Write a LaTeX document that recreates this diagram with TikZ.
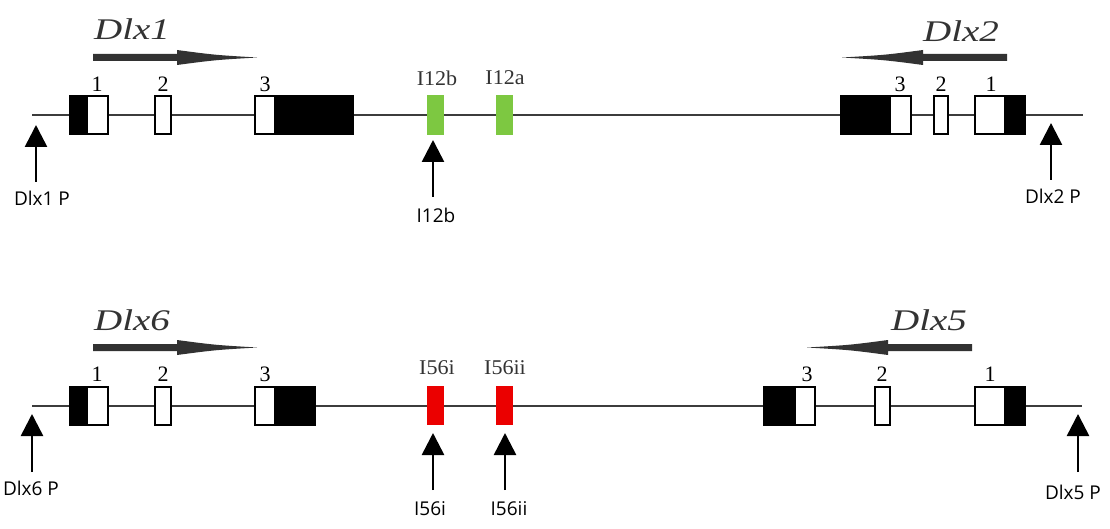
\documentclass[tikz,border=0pt]{standalone}
\usepackage{fontspec}
\setmainfont{Liberation Serif}
\newfontfamily\labfont{Open Sans}
\usetikzlibrary{arrows.meta}
\definecolor{exgreen}{RGB}{125,200,65}
\definecolor{exred}{RGB}{235,0,0}
\definecolor{gline}{RGB}{60,60,60}
\definecolor{garrowc}{RGB}{50,50,50}
\tikzset{
  genename/.style={font=\fontsize{30}{30}\selectfont\itshape, xscale=1.3, text=black!80, inner sep=0pt},
  exnum/.style={font=\fontsize{22}{22}\selectfont, inner sep=0pt},
  elname/.style={font=\fontsize{21}{21}\selectfont, xscale=1.05, text=black!80, inner sep=0pt},
  plabel/.style={font=\labfont\fontsize{19}{19}\selectfont, inner sep=0pt},
  pointer/.style={line width=2.6pt, -{Triangle[width=22pt,length=22pt]}},
  dna/.style={line width=1.3pt, draw=gline},
  exw/.style={draw=black, line width=1.2pt, fill=white},
  exb/.style={draw=black, line width=1.2pt, fill=black},
  garrow/.style={fill=garrowc},
}
\begin{document}
\begin{tikzpicture}[x=1pt,y=-1pt]
\useasboundingbox (0,0) rectangle (1110,529);

% ---------------- top row ----------------
\draw[dna] (32,115) -- (1083,115);
% Dlx1 exons
\draw[exb] (70,96) rectangle (87,134);
\draw[exw] (87,96) rectangle (108,134);
\draw[exw] (155,96) rectangle (171,134);
\draw[exw] (255,96) rectangle (275,134);
\draw[exb] (275,96) rectangle (353,134);
\node[exnum] (n11) at (97,84) {1};
\node[exnum] (n12) at (163,84) {2};
\node[exnum] (n13) at (265,84) {3};
% Dlx2 exons
\draw[exb] (841,96) rectangle (890,134);
\draw[exw] (890,96) rectangle (911,134);
\draw[exw] (934,96) rectangle (948,134);
\draw[exw] (975,96) rectangle (1005,134);
\draw[exb] (1005,96) rectangle (1025,134);
\node[exnum] (n23) at (900,84) {3};
\node[exnum] (n22) at (941,84) {2};
\node[exnum] (n21) at (991,84) {1};
% enhancers
\fill[exgreen] (427,95) rectangle (444,135);
\fill[exgreen] (496,95) rectangle (513,135);
\node[elname] (e12b) at (437,78) {I12b};
\node[elname] (e12a) at (505,78) {I12a};
% gene names and arrows
\node[genename] (g1) at (132,29) {Dlx1};
\node[genename] (g2) at (961,31) {Dlx2};
\fill[garrow] (93,54) -- (177,54) -- (177,50) .. controls (215,55) .. (257,57.5)
  .. controls (215,60) .. (177,65) -- (177,61) -- (93,61) -- cycle;
\fill[garrow] (1007,54) -- (923,54) -- (923,50) .. controls (885,55) .. (842,57.5)
  .. controls (885,60) .. (923,65) -- (923,61) -- (1007,61) -- cycle;
% pointers
\node[plabel] (p1) at (42,198) {Dlx1 P};
\coordinate (p1t) at (36,125);
\coordinate (p1s) at (36,182);
\draw[pointer] (p1s) -- (p1t);
\node[plabel] (p2) at (1053,196) {Dlx2 P};
\coordinate (p2t) at (1051,123);
\coordinate (p2s) at (1051,180);
\draw[pointer] (p2s) -- (p2t);
\node[plabel] (p12) at (436,215) {I12b};
\coordinate (p12t) at (433,140);
\coordinate (p12s) at (433,197);
\draw[pointer] (p12s) -- (p12t);

% ---------------- bottom row ----------------
\draw[dna] (32,406) -- (1082,406);
% Dlx6 exons
\draw[exb] (70,387) rectangle (87,425);
\draw[exw] (87,387) rectangle (108,425);
\draw[exw] (155,387) rectangle (171,425);
\draw[exw] (255,387) rectangle (275,425);
\draw[exb] (275,387) rectangle (315,425);
\node[exnum] (n61) at (97,374) {1};
\node[exnum] (n62) at (163,374) {2};
\node[exnum] (n63) at (265,374) {3};
% Dlx5 exons
\draw[exb] (764,387) rectangle (795,425);
\draw[exw] (795,387) rectangle (815,425);
\draw[exw] (875,387) rectangle (890,425);
\draw[exw] (975,387) rectangle (1005,425);
\draw[exb] (1005,387) rectangle (1025,425);
\node[exnum] (n53) at (807,374) {3};
\node[exnum] (n52) at (882,374) {2};
\node[exnum] (n51) at (990,374) {1};
% enhancers
\fill[exred] (427,386) rectangle (444,425);
\fill[exred] (496,386) rectangle (513,425);
\node[elname] (e56i) at (437,368) {I56i};
\node[elname] (e56ii) at (505,368) {I56ii};
% gene names and arrows
\node[genename] (g6) at (132,320) {Dlx6};
\node[genename] (g5) at (929,320) {Dlx5};
\fill[garrow] (93,344) -- (177,344) -- (177,340) .. controls (215,345) .. (257,347.5)
  .. controls (215,350) .. (177,355) -- (177,351) -- (93,351) -- cycle;
\fill[garrow] (972,344) -- (888,344) -- (888,340) .. controls (850,345) .. (807,347.5)
  .. controls (850,350) .. (888,355) -- (888,351) -- (972,351) -- cycle;
% pointers
\node[plabel] (p6) at (31,488) {Dlx6 P};
\coordinate (p6t) at (32,414);
\coordinate (p6s) at (32,472);
\draw[pointer] (p6s) -- (p6t);
\node[plabel] (p5) at (1073,492) {Dlx5 P};
\coordinate (p5t) at (1078,414);
\coordinate (p5s) at (1078,472);
\draw[pointer] (p5s) -- (p5t);
\node[plabel] (p56i) at (430,509) {I56i};
\coordinate (p56it) at (433,433);
\coordinate (p56is) at (433,490);
\draw[pointer] (p56is) -- (p56it);
\node[plabel] (p56ii) at (509,509) {I56ii};
\coordinate (p56iit) at (505,433);
\coordinate (p56iis) at (505,490);
\draw[pointer] (p56iis) -- (p56iit);
\end{tikzpicture}
\end{document}
